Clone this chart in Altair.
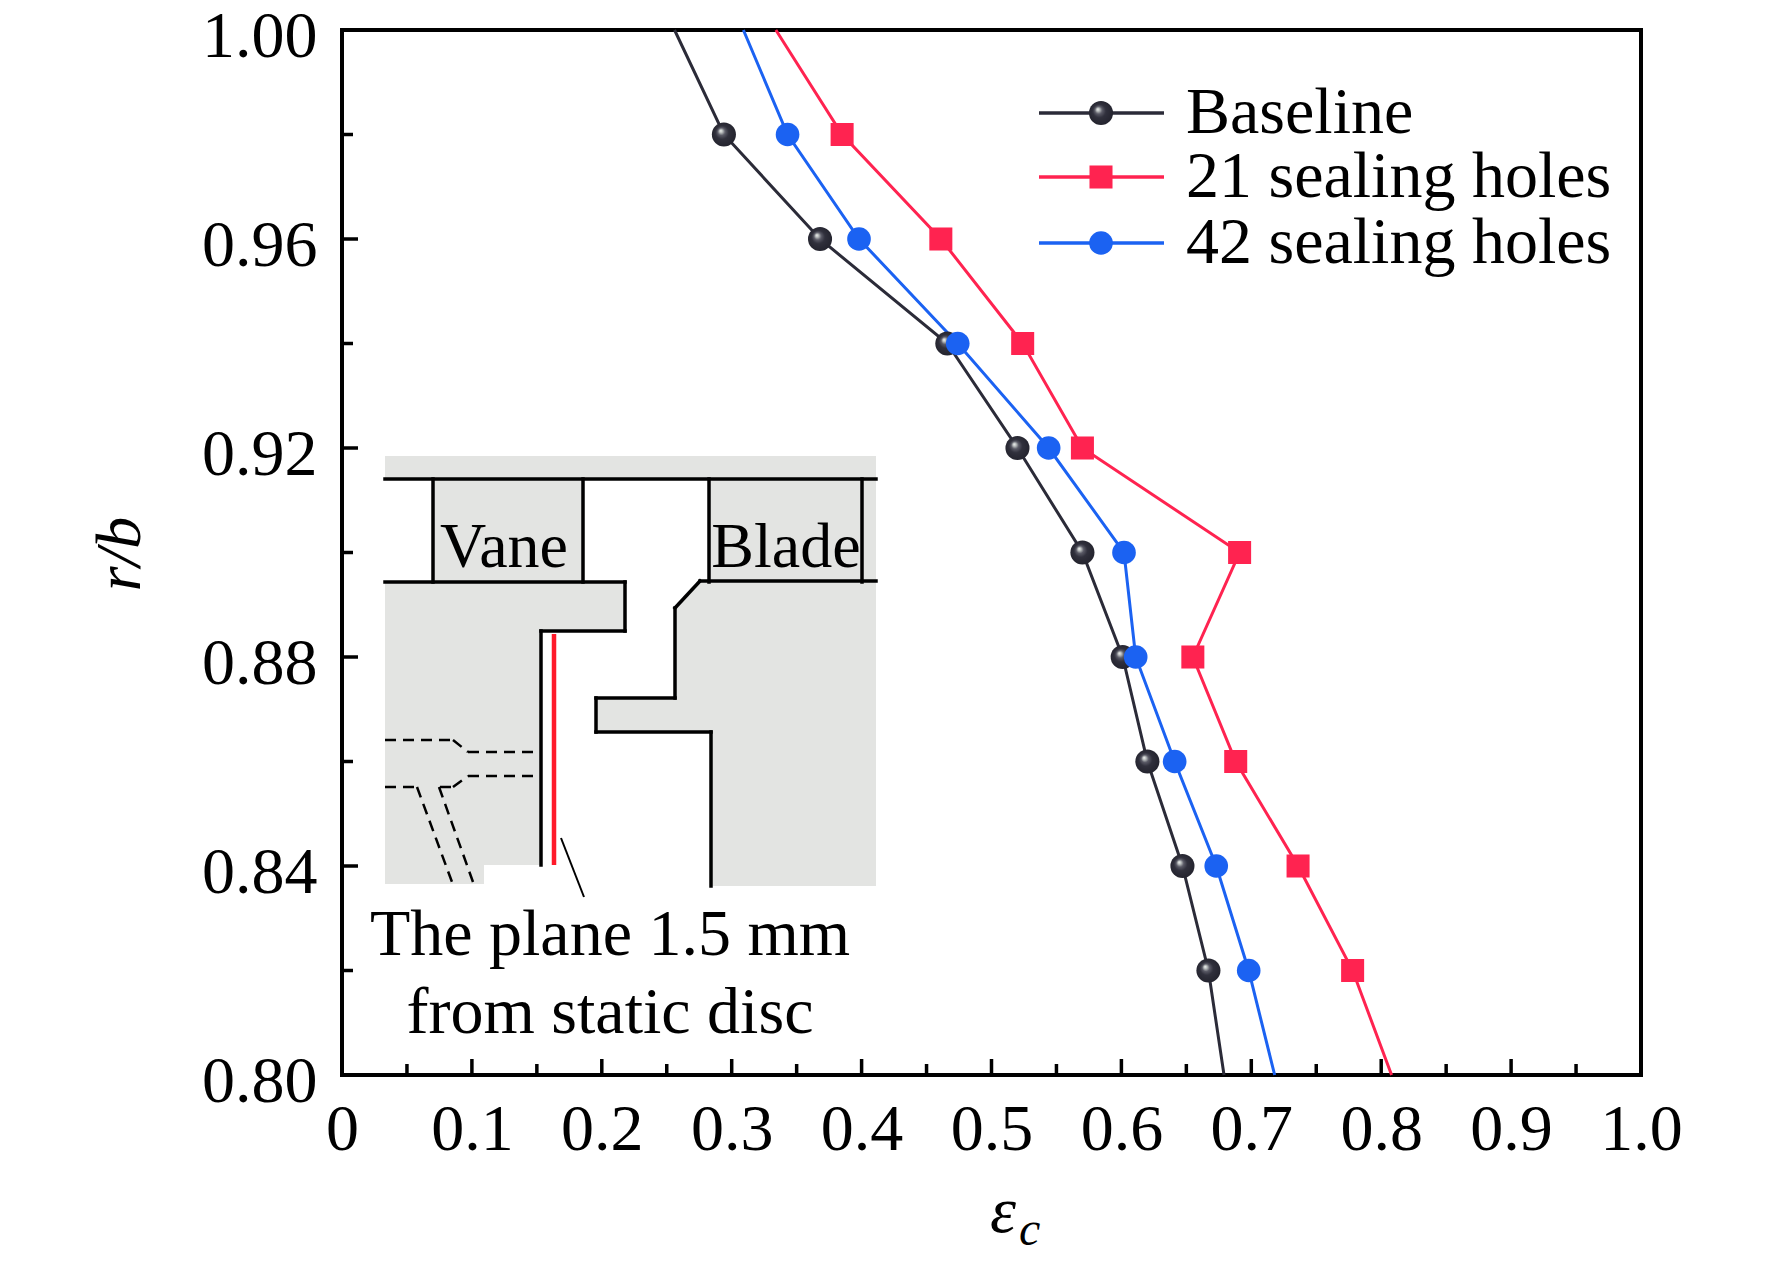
import altair as alt
import pandas as pd

# ---------------- data ----------------
r_b = [1.00, 0.98, 0.96, 0.94, 0.92, 0.90, 0.88, 0.86, 0.84, 0.82, 0.80]
baseline = [0.256, 0.294, 0.368, 0.466, 0.520, 0.570, 0.601, 0.620, 0.647, 0.667, 0.679]
holes21 = [0.334, 0.385, 0.461, 0.524, 0.570, 0.691, 0.655, 0.688, 0.736, 0.778, 0.808]
holes42 = [0.309, 0.343, 0.398, 0.474, 0.544, 0.602, 0.611, 0.641, 0.673, 0.698, 0.718]
series_names = ["Baseline", "21 sealing holes", "42 sealing holes"]
series_colors = ["#2b2b38", "#ff2350", "#1b62f2"]

x_tick_labels = [0, 0.1, 0.2, 0.3, 0.4, 0.5, 0.6, 0.7, 0.8, 0.9, 1.0]
x_minor = [0.05, 0.15, 0.25, 0.35, 0.45, 0.55, 0.65, 0.75, 0.85, 0.95]
y_tick_labels = [0.80, 0.84, 0.88, 0.92, 0.96, 1.00]
y_minor = [0.82, 0.86, 0.90, 0.94, 0.98]

FONT = "Liberation Serif"
FS = 66
W, H = 1299, 1045
X0, Y0 = 342, 30  # page position of the plot area (used for the inset drawing)

rows = []
for name, vals in zip(series_names, [baseline, holes21, holes42]):
    for i, (v, r) in enumerate(zip(vals, r_b)):
        rows.append({"series": name, "eps": v, "rb": r, "idx": i,
                     "marker": 0 < i < len(r_b) - 1})
df = pd.DataFrame(rows)

xs = alt.Scale(domain=[0, 1], nice=False, zero=False)
ys = alt.Scale(domain=[0.8, 1.0], nice=False, zero=False)
cs = alt.Scale(domain=series_names, range=series_colors)

AX_X = alt.Axis(
    values=x_tick_labels, title=None, ticks=False, domain=False, grid=False,
    labelExpr="datum.value == 0 ? '0' : format(datum.value, '.1f')",
    labelFont=FONT, labelFontSize=FS, labelColor="black",
    labelPadding=22, labelFlush=False, labelOverlap=False)
AX_Y = alt.Axis(
    values=y_tick_labels, format=".2f", title=None, ticks=False, domain=False,
    grid=False, labelFont=FONT, labelFontSize=FS, labelColor="black",
    labelPadding=25, labelOffset=6, labelFlush=False, labelOverlap=False)


def X(field):
    return alt.X(field, scale=xs, axis=AX_X, title=None)


def Y(field):
    return alt.Y(field, scale=ys, axis=AX_Y, title=None)


def dx(px):
    return (px - X0) / W


def dy(py):
    return 1.0 - (py - Y0) / H * 0.2


base = alt.Chart(df)

lines = base.mark_line(strokeWidth=3).encode(
    x=X("eps:Q"), y=Y("rb:Q"),
    color=alt.Color("series:N", scale=cs, legend=None),
    order=alt.Order("idx:Q"),
    detail="series:N",
)

sphere = {"gradient": "radial",
          "stops": [{"offset": 0, "color": "#f4f6f4"},
                    {"offset": 0.13, "color": "#b8bcbc"},
                    {"offset": 0.28, "color": "#5a5a66"},
                    {"offset": 0.5, "color": "#30303c"},
                    {"offset": 1, "color": "#22222c"}],
          "x1": 0.36, "y1": 0.34, "r1": 0, "x2": 0.5, "y2": 0.5, "r2": 0.55}

mk = base.transform_filter("datum.marker")
m_black = mk.transform_filter(alt.datum.series == series_names[0]).mark_circle(
    size=580, opacity=1, fill=sphere).encode(x=X("eps:Q"), y=Y("rb:Q"))
m_red = mk.transform_filter(alt.datum.series == series_names[1]).mark_square(
    size=530, opacity=1, color=series_colors[1]).encode(x=X("eps:Q"), y=Y("rb:Q"))
m_blue = mk.transform_filter(alt.datum.series == series_names[2]).mark_circle(
    size=560, opacity=1, color=series_colors[2]).encode(x=X("eps:Q"), y=Y("rb:Q"))


# ---------------- inward ticks ----------------
def yticks(vals, length):
    return alt.Chart(pd.DataFrame({"v": vals})).mark_rule(
        strokeWidth=3.5, color="black").encode(
        y=Y("v:Q"), x=alt.value(0), x2=alt.value(length))


def xticks(vals, length):
    return alt.Chart(pd.DataFrame({"v": vals})).mark_rule(
        strokeWidth=3.5, color="black").encode(
        x=X("v:Q"), y=alt.value(H), y2=alt.value(H - length))


ticks = [yticks(y_tick_labels, 16), yticks(y_minor, 11),
         xticks(x_tick_labels, 16), xticks(x_minor, 11)]

# ---------------- inset schematic (page pixel geometry -> data coords) ----------------
GRAY = "#e3e4e2"
gray_rects = [
    (385, 456, 876, 479), (433, 479, 583, 582), (709, 479, 876, 582),
    (385, 582, 625, 631), (385, 631, 541, 865), (385, 865, 484, 884),
    (700, 581, 876, 608), (675, 608, 876, 698), (596, 698, 876, 732),
    (711, 732, 876, 886),
]
solid_segs = [
    (385, 479, 876, 479), (433, 479, 433, 582), (583, 479, 583, 582),
    (385, 582, 625, 582), (625, 582, 625, 631), (625, 631, 541, 631),
    (541, 631, 541, 865), (709, 479, 709, 582), (862, 479, 862, 582),
    (876, 581, 700, 581), (700, 581, 675, 608), (675, 608, 675, 698),
    (675, 698, 596, 698), (596, 698, 596, 732), (596, 732, 711, 732),
    (711, 732, 711, 886),
]
dash_segs = [
    (385, 740, 453, 740), (453, 740, 468, 752), (468, 752, 538, 752),
    (385, 787, 415, 787), (440, 787, 453, 787), (453, 787, 468, 776),
    (468, 776, 538, 776), (417, 787, 452, 882), (439, 787, 473, 882),
]
red_seg = [(554, 634, 554, 865)]
leader_seg = [(561, 838, 584, 897)]


def rect_df(rs):
    return pd.DataFrame([{"x1": dx(a), "y1": dy(b), "x2": dx(c), "y2": dy(d)}
                         for a, b, c, d in rs])


def seg_layer(segs, **kw):
    return alt.Chart(rect_df(segs)).mark_rule(**kw).encode(
        x=X("x1:Q"), x2="x2:Q", y=Y("y1:Q"), y2="y2:Q")


gray_layer = alt.Chart(rect_df(gray_rects)).mark_rect(color=GRAY, opacity=1).encode(
    x=X("x1:Q"), x2="x2:Q", y=Y("y1:Q"), y2="y2:Q")
chamfer = alt.Chart(pd.DataFrame({"x": [dx(675), dx(700)], "y": [dy(608), dy(581)],
                                  "y2": [dy(608), dy(608)]})).mark_area(
    color=GRAY, opacity=1).encode(x=X("x:Q"), y=Y("y:Q"), y2="y2:Q")

solid_layer = seg_layer(solid_segs, color="black", strokeWidth=3.5, strokeCap="square")
dash_layer = seg_layer(dash_segs, color="black", strokeWidth=2.5, strokeDash=[11, 7])
red_layer = seg_layer(red_seg, color="#ff1a2a", strokeWidth=4.5)
leader_layer = seg_layer(leader_seg, color="black", strokeWidth=2)


def txt(s, x, y, size=FS, align="center", baseline="alphabetic", style="normal", angle=0):
    return alt.Chart(pd.DataFrame({"t": [s]})).mark_text(
        font=FONT, fontSize=size, align=align, baseline=baseline, fontStyle=style,
        angle=angle, color="black").encode(
        text="t:N", x=alt.value(x), y=alt.value(y))


inset_text = [
    txt("Vane", 504 - X0, 567 - Y0, size=64),
    txt("Blade", 786 - X0, 567 - Y0, size=64),
    txt("The plane 1.5 mm", 610 - X0, 955 - Y0),
    txt("from static disc", 610 - X0, 1033 - Y0),
]

# ---------------- legend (manual, inside plot) ----------------
legend_layers = []
row_y = [113 - Y0, 177 - Y0, 243 - Y0]
one = pd.DataFrame({"a": [0]})
for i, name in enumerate(series_names):
    yy = row_y[i]
    legend_layers.append(alt.Chart(one).mark_rule(
        color=series_colors[i], strokeWidth=3.5).encode(
        x=alt.value(1039 - X0), x2=alt.value(1164 - X0), y=alt.value(yy)))
    if i == 0:
        m = alt.Chart(one).mark_circle(size=580, opacity=1, fill=sphere)
    elif i == 1:
        m = alt.Chart(one).mark_square(size=530, opacity=1, color=series_colors[1])
    else:
        m = alt.Chart(one).mark_circle(size=560, opacity=1, color=series_colors[2])
    legend_layers.append(m.encode(x=alt.value(1101 - X0), y=alt.value(yy)))
    legend_layers.append(txt(name, 1186 - X0, yy, align="left", baseline="middle"))

# ---------------- axis titles ----------------
titles = [
    txt("r/b", 121 - X0, 554 - Y0, size=64, baseline="middle", style="italic", angle=270),
    txt("ε", 1003 - X0, 1232 - Y0, size=66, style="italic"),
    txt("c", 1019 - X0, 1245 - Y0, size=48, align="left", style="italic"),
]

chart = alt.layer(
    lines,
    gray_layer, chamfer, solid_layer, dash_layer, red_layer, leader_layer,
    *inset_text,
    m_black, m_red, m_blue,
    *ticks,
    *legend_layers,
    *titles,
).properties(
    width=W, height=H,
    padding={"left": 334, "top": 22, "right": 100, "bottom": 180},
    autosize=alt.AutoSizeParams(type="none"),
    background="white",
).configure_view(stroke="black", strokeWidth=4)

chart.save("out.html", embed_options={"renderer": "svg", "actions": False})
